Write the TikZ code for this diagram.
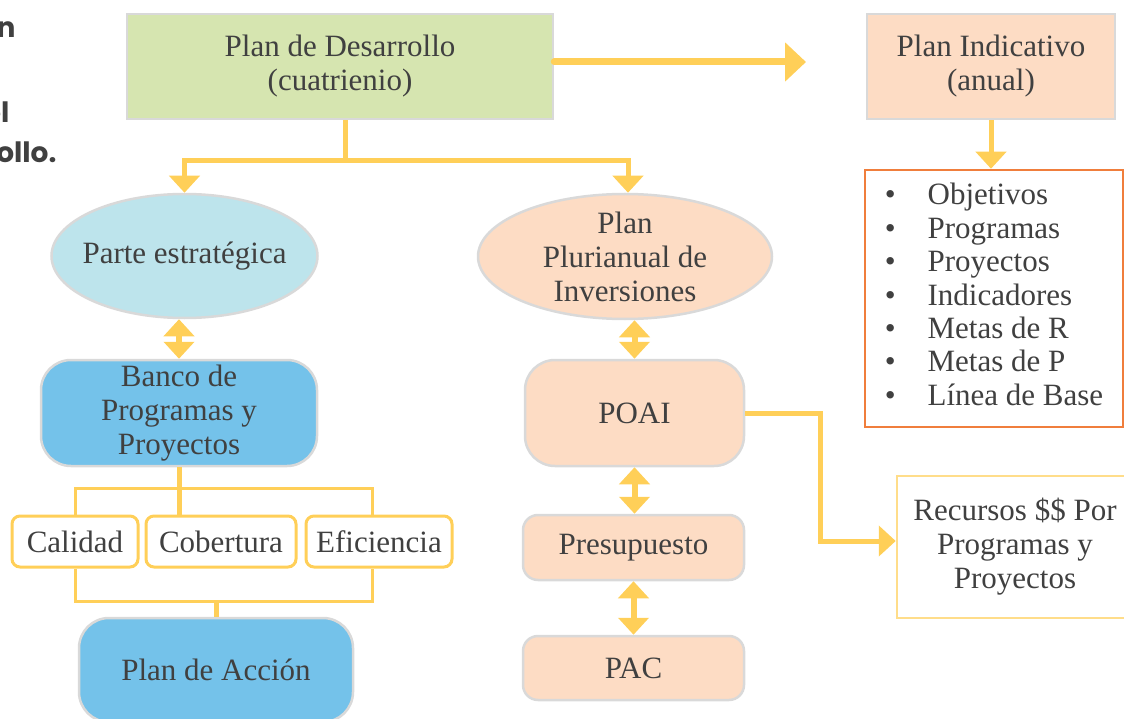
\documentclass[tikz,border=0pt]{standalone}
\usepackage{fontspec}
\setmainfont{Liberation Serif}
\newfontfamily\cutfont{Poppins}
\usetikzlibrary{shapes.geometric,arrows.meta}

\definecolor{linea}{RGB}{255,207,88}
\definecolor{verde}{RGB}{214,229,176}
\definecolor{durazno}{RGB}{253,220,196}
\definecolor{celeste}{RGB}{189,228,236}
\definecolor{azul}{RGB}{116,194,234}
\definecolor{borde}{RGB}{217,217,217}
\definecolor{naranja}{RGB}{240,126,60}
\definecolor{texto}{RGB}{64,64,64}

\begin{document}
\begin{tikzpicture}[x=1pt,y=-1pt,font=\fontsize{31}{34}\selectfont,text=texto,align=center,
    caja/.style={draw=borde,line width=2.5pt,inner sep=0pt},
    tema/.style={draw=linea,fill=white,line width=3pt,rounded corners=8pt,minimum height=51pt,inner sep=0pt},
    corte/.style={font=\cutfont\bfseries\fontsize{28}{30}\selectfont,anchor=base east},
    rama/.style={draw=linea,line width=5pt},
    marco/.style={draw=linea,line width=3pt},
    flecha/.style={rama,-{Triangle[width=30pt,length=17pt]}},
    grande/.style={draw=linea,line width=7pt,line cap=round,-{Triangle[width=38pt,length=21pt]}},
    doble/.style={draw=linea,line width=6pt,{Triangle[width=30pt,length=17pt]}-{Triangle[width=30pt,length=17pt]}}]
        \useasboundingbox (0,0) rectangle (1124,719);

        \node[corte] (t1) at (19,38) {n};
        \node[corte] (t2) at (13,123) {el};
        \node[corte] (t3) at (60,163) {ollo.};

        \node[caja,fill=verde,minimum width=426pt,minimum height=105pt] (pd) at (340,66.5) {Plan de Desarrollo\\(cuatrienio)};
        \node[caja,fill=durazno,minimum width=248pt,minimum height=105pt] (pi) at (991,66.5) {Plan Indicativo\\(anual)};
        \node[draw=naranja,line width=2.5pt,minimum width=258pt,minimum height=257pt,inner sep=0pt,
              font=\fontsize{31}{33.4}\selectfont] (lista) at (994,298.5)
            {\begin{tabular}{@{}c@{\hspace{32pt}}l@{}}
             \textbullet & Objetivos\\
             \textbullet & Programas\\
             \textbullet & Proyectos\\
             \textbullet & Indicadores\\
             \textbullet & Metas de R\\
             \textbullet & Metas de P\\
             \textbullet & Línea de Base
             \end{tabular}};

        \node[ellipse,caja,fill=celeste,inner xsep=-20pt,minimum width=266pt,minimum height=124pt] (pe) at (184.5,256) {Parte estratégica};
        \node[ellipse,caja,fill=durazno,inner ysep=-15pt,minimum width=294pt,minimum height=125pt] (ppi) at (625,256.5) {Plan\\Plurianual de\\Inversiones};

        \node[caja,fill=azul,rounded corners=30pt,minimum width=276pt,minimum height=106pt] (banco) at (179,413) {Banco de\\Programas y\\Proyectos};
        \node[tema,minimum width=126pt] (cal) at (75,541.5) {Calidad};
        \node[tema,minimum width=150pt] (cob) at (221,541.5) {Cobertura};
        \node[tema,minimum width=146pt] (efi) at (379,541.5) {Eficiencia};
        \node[caja,fill=azul,rounded corners=30pt,minimum width=274pt,minimum height=104pt] (pda) at (216,670) {Plan de Acción};

        \node[caja,fill=durazno,rounded corners=30pt,minimum width=219pt,minimum height=106pt] (poai) at (634.5,413) {POAI};
        \node[caja,fill=durazno,rounded corners=15pt,minimum width=221pt,minimum height=65pt] (pres) at (633.5,547.5) {Presupuesto};
        \node[caja,fill=durazno,rounded corners=15pt,minimum width=221pt,minimum height=64pt] (pac) at (633.5,668) {PAC};
        \node[draw=linea!70,line width=2.5pt,minimum width=236pt,minimum height=142pt,inner sep=0pt] (rec) at (1015,547) {Recursos \$\$ Por\\Programas y\\Proyectos};

        \coordinate (pdfin) at (806,62);

        % upper branches
        \draw[grande] ([yshift=4.5pt]pd.east) -- (pdfin);
        \draw[rama] ([xshift=5pt]pd.south) -- ++(0,40) coordinate (nudo);
        \draw[flecha] (nudo) -| (pe.north);
        \draw[flecha] (nudo) -| ([xshift=3pt]ppi.north);
        \draw[flecha] (pi.south) -- (pi.south |- lista.north);

        % left column
        \draw[doble] (pe.south -| banco.north) -- (banco.north);
        \draw[rama] (banco.south) -- (banco.south |- cob.north);
        \draw[marco] (cal.north) -- ++(0,-26) -| ([xshift=-7pt]efi.north);
        \draw[marco] (cal.south) -- ++(0,33) coordinate (base) -| ([xshift=-7pt]efi.south);
        \draw[rama] (base -| pda.north) -- (pda.north);

        % right column
        \draw[doble] (ppi.south -| poai.north) -- (poai.north);
        \draw[doble] (poai.south) -- (poai.south |- pres.north);
        \draw[doble] (pres.south) -- (pres.south |- pac.north);
        \draw[flecha] (poai.east) -- ++(75,0) |- ([yshift=6pt]rec.west);
\end{tikzpicture}
\end{document}
